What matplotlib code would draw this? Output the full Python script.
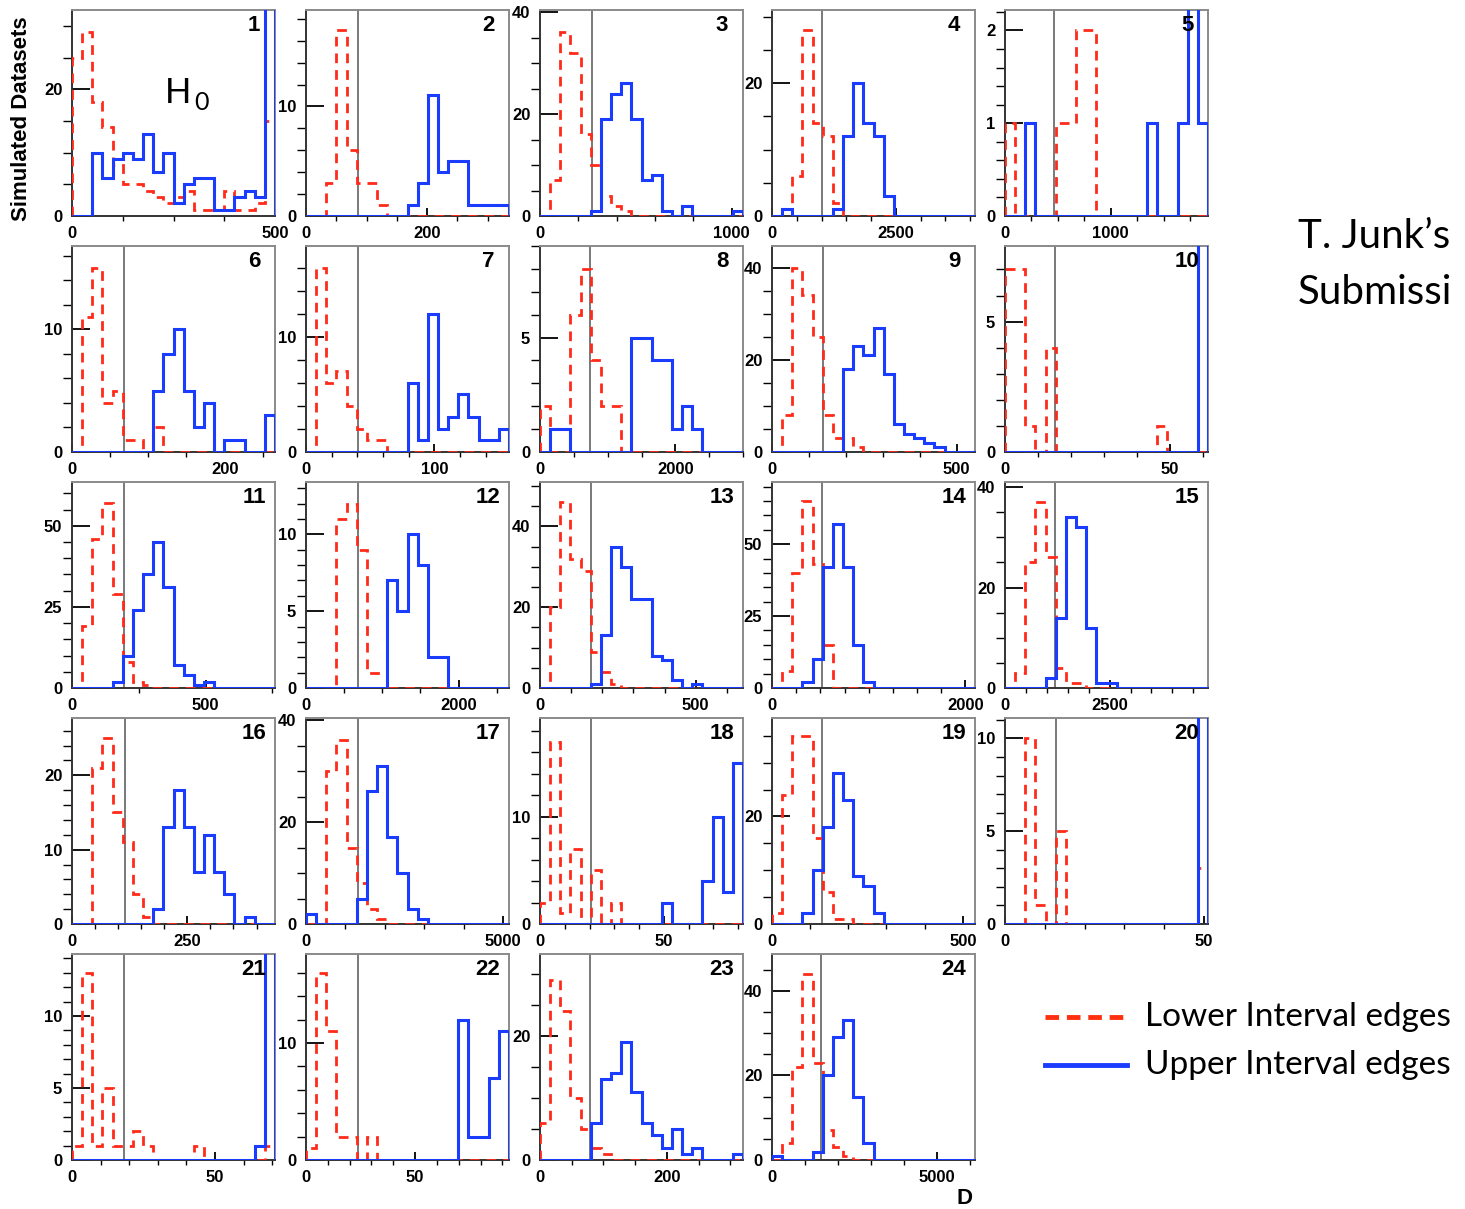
import numpy as np
import matplotlib.pyplot as plt
from matplotlib.lines import Line2D
from matplotlib.ticker import MultipleLocator, FuncFormatter

plt.rcParams['font.family'] = ['Liberation Sans', 'DejaVu Sans']

# bin contents, 20 bins per panel: lower (red dashed) and upper (blue) interval edges
lo1 = [25, 29, 18, 14, 8, 5, 5, 4, 3, 2, 3, 4, 1, 1, 1, 4, 1, 1, 2, 15]
up1 = [0, 0, 10, 6, 9, 10, 9, 13, 7, 10, 2, 5, 6, 6, 1, 1, 3, 4, 3, 60]
lo2 = [0, 0, 3, 17, 6, 3, 3, 1, 0, 0, 0, 0, 0, 0, 0, 0, 0, 0, 0, 0]
up2 = [0, 0, 0, 0, 0, 0, 0, 0, 0, 0, 1, 3, 11, 4, 5, 5, 1, 1, 1, 1]
lo3 = [0, 7, 36, 32, 16, 10, 4, 2, 1, 0, 0, 0, 0, 0, 0, 0, 0, 0, 0, 0]
up3 = [0, 0, 0, 0, 0, 1, 19, 24, 26, 19, 7, 8, 1, 0, 2, 0, 0, 0, 0, 1]
lo4 = [0, 1, 6, 28, 14, 12, 2, 0, 0, 0, 0, 0, 0, 0, 0, 0, 0, 0, 0, 0]
up4 = [0, 1, 0, 0, 0, 0, 1, 12, 20, 14, 12, 3, 0, 0, 0, 0, 0, 0, 0, 0]
lo5 = [1, 0, 0, 0, 0, 1, 1, 2, 2, 0, 0, 0, 0, 0, 0, 0, 0, 0, 0, 0]
up5 = [0, 0, 1, 0, 0, 0, 0, 0, 0, 0, 0, 0, 0, 0, 1, 0, 0, 1, 3, 1]
lo6 = [0, 11, 15, 4, 5, 1, 1, 0, 2, 0, 0, 0, 0, 0, 0, 0, 0, 0, 0, 0]
up6 = [0, 0, 0, 0, 0, 0, 0, 0, 5, 8, 10, 5, 2, 4, 0, 1, 1, 0, 0, 3]
lo7 = [0, 16, 6, 7, 4, 2, 1, 1, 0, 0, 0, 0, 0, 0, 0, 0, 0, 0, 0, 0]
up7 = [0, 0, 0, 0, 0, 0, 0, 0, 0, 0, 6, 1, 12, 2, 3, 5, 3, 1, 1, 2]
lo8 = [2, 0, 0, 6, 8, 4, 2, 2, 0, 0, 0, 0, 0, 0, 0, 0, 0, 0, 0, 0]
up8 = [0, 1, 1, 0, 0, 0, 0, 0, 0, 5, 5, 4, 4, 1, 2, 1, 0, 0, 0, 0]
lo9 = [0, 8, 40, 34, 25, 8, 3, 3, 1, 0, 0, 0, 0, 0, 0, 0, 0, 0, 0, 0]
up9 = [0, 0, 0, 0, 0, 0, 0, 18, 23, 21, 27, 17, 6, 4, 3, 2, 1, 0, 0, 0]
lo10 = [7, 7, 1, 0, 4, 0, 0, 0, 0, 0, 0, 0, 0, 0, 0, 1, 0, 0, 0, 0]
up10 = [0, 0, 0, 0, 0, 0, 0, 0, 0, 0, 0, 0, 0, 0, 0, 0, 0, 0, 0, 100]
lo11 = [0, 19, 46, 57, 29, 8, 2, 1, 0, 0, 0, 0, 0, 0, 0, 0, 0, 0, 0, 0]
up11 = [0, 0, 0, 0, 2, 10, 24, 35, 45, 31, 7, 4, 1, 2, 0, 0, 0, 0, 0, 0]
lo12 = [0, 0, 0, 11, 12, 9, 1, 1, 0, 0, 0, 0, 0, 0, 0, 0, 0, 0, 0, 0]
up12 = [0, 0, 0, 0, 0, 0, 0, 0, 7, 5, 10, 8, 2, 2, 0, 0, 0, 0, 0, 0]
lo13 = [0, 20, 46, 32, 29, 9, 4, 1, 0, 0, 0, 0, 0, 0, 0, 0, 0, 0, 0, 0]
up13 = [0, 0, 0, 0, 0, 1, 13, 35, 30, 22, 22, 8, 7, 2, 0, 1, 0, 0, 0, 0]
lo14 = [0, 6, 40, 65, 43, 15, 0, 0, 0, 0, 0, 0, 0, 0, 0, 0, 0, 0, 0, 0]
up14 = [0, 0, 0, 2, 10, 42, 57, 42, 15, 2, 0, 0, 0, 0, 0, 0, 0, 0, 0, 0]
lo15 = [0, 3, 25, 37, 26, 4, 1, 1, 0, 0, 0, 0, 0, 0, 0, 0, 0, 0, 0, 0]
up15 = [0, 0, 0, 0, 2, 14, 34, 32, 12, 1, 1, 0, 0, 0, 0, 0, 0, 0, 0, 0]
lo16 = [0, 0, 21, 25, 15, 11, 4, 1, 0, 0, 0, 0, 0, 0, 0, 0, 0, 0, 0, 0]
up16 = [0, 0, 0, 0, 0, 0, 0, 0, 2, 13, 18, 13, 7, 12, 7, 4, 0, 1, 0, 0]
lo17 = [0, 0, 30, 36, 15, 8, 3, 1, 0, 0, 0, 0, 0, 0, 0, 0, 0, 0, 0, 0]
up17 = [2, 0, 0, 0, 0, 5, 26, 31, 17, 10, 3, 1, 0, 0, 0, 0, 0, 0, 0, 0]
lo18 = [2, 17, 1, 7, 0, 5, 0, 2, 0, 0, 0, 0, 0, 0, 0, 0, 0, 0, 0, 0]
up18 = [0, 0, 0, 0, 0, 0, 0, 0, 0, 0, 0, 0, 2, 0, 0, 0, 4, 10, 3, 15]
lo19 = [2, 24, 35, 35, 16, 6, 1, 1, 0, 0, 0, 0, 0, 0, 0, 0, 0, 0, 0, 0]
up19 = [0, 0, 0, 2, 10, 18, 28, 23, 9, 7, 2, 0, 0, 0, 0, 0, 0, 0, 0, 0]
lo20 = [0, 0, 10, 1, 0, 5, 0, 0, 0, 0, 0, 0, 0, 0, 0, 0, 0, 0, 0, 3]
up20 = [0, 0, 0, 0, 0, 0, 0, 0, 0, 0, 0, 0, 0, 0, 0, 0, 0, 0, 0, 100]
lo21 = [1, 13, 1, 5, 1, 1, 2, 1, 0, 0, 0, 0, 1, 0, 0, 0, 0, 0, 0, 1]
up21 = [0, 0, 0, 0, 0, 0, 0, 0, 0, 0, 0, 0, 0, 0, 0, 0, 0, 0, 1, 100]
lo22 = [1, 16, 11, 2, 2, 0, 2, 0, 0, 0, 0, 0, 0, 0, 0, 0, 0, 0, 0, 0]
up22 = [0, 0, 0, 0, 0, 0, 0, 0, 0, 0, 0, 0, 0, 0, 0, 12, 2, 2, 7, 11]
lo23 = [6, 29, 24, 10, 5, 2, 1, 0, 0, 0, 0, 0, 0, 0, 0, 0, 0, 0, 0, 0]
up23 = [0, 0, 0, 0, 0, 6, 13, 14, 19, 11, 6, 4, 2, 5, 1, 2, 0, 0, 0, 1]
lo24 = [0, 4, 22, 44, 23, 7, 3, 1, 0, 0, 0, 0, 0, 0, 0, 0, 0, 0, 0, 0]
up24 = [1, 0, 0, 0, 2, 20, 29, 33, 15, 4, 0, 0, 0, 0, 0, 0, 0, 0, 0, 0]

lower = [lo1, lo2, lo3, lo4, lo5, lo6, lo7, lo8, lo9, lo10, lo11, lo12,
         lo13, lo14, lo15, lo16, lo17, lo18, lo19, lo20, lo21, lo22, lo23, lo24]
upper = [up1, up2, up3, up4, up5, up6, up7, up8, up9, up10, up11, up12,
         up13, up14, up15, up16, up17, up18, up19, up20, up21, up22, up23, up24]

# axis ranges, true value line, tick steps (labelled / minor)
x_max = [500, 335, 1060, 4100, 1920, 266, 158, 3000, 550, 61.5, 760, 2660,
         652, 2100, 4850, 440, 5150, 82, 532, 51, 71, 93, 320, 6160]
y_max = [32.5, 18.8, 40.4, 31, 2.22, 16.8, 17.9, 9.0, 44.7, 7.9, 63.5, 13.4,
         51, 71.6, 41, 27.7, 40.4, 19.2, 38.3, 11.1, 14.3, 17.6, 33.2, 48.7]
truth = [None, 85, 269, 1000, 468, 68.6, 40.7, 738, 137, 15.1, 196, 682,
         165, 520, 1200, 114, 1328, 20.5, 131, 12.8, 18.2, 23.8, 78.6, 1500]
x_lab = [500, 200, 1000, 2500, 1000, 200, 100, 2000, 500, 50, 500, 2000,
         500, 2000, 2500, 250, 5000, 50, 500, 50, 50, 50, 200, 5000]
x_min = [125, 50, 200, 500, 250, 50, 20, 500, 100, 10, 250, 500,
         100, 250, 500, 50, 1000, 10, 100, 10, 10, 10, 50, 1000]
y_lab = [20, 10, 20, 20, 1, 10, 10, 5, 20, 5, 25, 5,
         20, 25, 20, 10, 20, 10, 20, 5, 5, 10, 20, 20]
y_min = [5, 2, 5, 5, 0.2, 2, 2, 1, 5, 1, 5, 1,
         5, 5, 5, 2, 5, 2, 5, 1, 1, 2, 5, 5]

RED = '#ff2a1a'
BLUE = '#1a3cff'

fig = plt.figure(figsize=(14.65, 12.09), dpi=100)
FW, FH = 1465, 1209
col_x = [72, 306, 540, 772, 1005]
row_y = [10, 246, 482, 718, 954]
W, H = 203, 206

fmt = FuncFormatter(lambda v, p: '%g' % v)

for i in range(24):
    r, c = divmod(i, 5)
    ax = fig.add_axes([col_x[c] / FW, 1 - (row_y[r] + H) / FH, W / FW, H / FH])
    edges = np.linspace(0, x_max[i], 21)
    ax.stairs(lower[i], edges, color=RED, lw=2, linestyle=(0, (3.5, 2.5)), zorder=3)
    ax.stairs(upper[i], edges, color=BLUE, lw=2.2, zorder=4)
    if truth[i] is not None:
        ax.axvline(truth[i], color='#6e6e6e', lw=1.3, zorder=2)
    ax.set_xlim(0, x_max[i])
    ax.set_ylim(0, y_max[i])

    ax.xaxis.set_major_locator(MultipleLocator(x_lab[i]))
    ax.xaxis.set_minor_locator(MultipleLocator(x_min[i]))
    ax.yaxis.set_major_locator(MultipleLocator(y_lab[i]))
    ax.yaxis.set_minor_locator(MultipleLocator(y_min[i]))
    ax.xaxis.set_major_formatter(fmt)
    ax.yaxis.set_major_formatter(fmt)
    ax.tick_params(direction='in', top=False, right=False, labelsize=12, width=1.3)
    ax.tick_params(axis='x', which='major', length=6, pad=7)
    ax.tick_params(axis='x', which='minor', length=3.5, width=1)
    ax.tick_params(axis='y', which='major', length=13, pad=7)
    ax.tick_params(axis='y', which='minor', length=6.5, width=1)
    for lab in ax.get_xticklabels() + ax.get_yticklabels():
        lab.set_fontweight('bold')
    for side in ['left', 'bottom']:
        ax.spines[side].set_color('#333333')
        ax.spines[side].set_linewidth(1.4)
    for side in ['top', 'right']:
        ax.spines[side].set_color('#8a8a8a')
        ax.spines[side].set_linewidth(1.4)

    ax.text(0.897, 0.927, str(i + 1), transform=ax.transAxes, ha='center', va='center',
            fontsize=16, fontweight='bold', zorder=5)

    if i == 0:
        ax.text(0.458, 0.549, 'H', transform=ax.transAxes, fontsize=25,
                family='Lato', ha='left', va='baseline')
        ax.text(0.6, 0.515, '0', transform=ax.transAxes, fontsize=18,
                family='Lato', ha='left', va='baseline')

fig.text(0.015, 0.902, 'Simulated Datasets', rotation=90, ha='center', va='center',
         fontsize=16, fontweight='bold')
fig.text(965 / FW, 1 - 1198 / FH, 'D', ha='center', va='center',
         fontsize=16, fontweight='bold')

fig.text(1298 / FW, 1 - 237 / FH, 'T. Junk\u2019s', ha='left', va='center',
         fontsize=29, family='Lato')
fig.text(1298 / FW, 1 - 293 / FH, 'Submissi', ha='left', va='center',
         fontsize=29, family='Lato')

# legend
y1, y2 = 1 - 1017 / FH, 1 - 1065 / FH
fig.add_artist(Line2D([1045 / FW, 1125 / FW], [y1, y1], transform=fig.transFigure,
                      color='#ff3010', lw=3.5, linestyle=(0, (2.8, 1.6))))
fig.add_artist(Line2D([1045 / FW, 1127 / FW], [y2, y2], transform=fig.transFigure,
                      color=BLUE, lw=3.5))
fig.text(1145 / FW, y1, 'Lower Interval edges', ha='left', va='center', fontsize=24, family='Lato')
fig.text(1145 / FW, y2, 'Upper Interval edges', ha='left', va='center', fontsize=24, family='Lato')

fig.savefig('out.png', dpi=100)
